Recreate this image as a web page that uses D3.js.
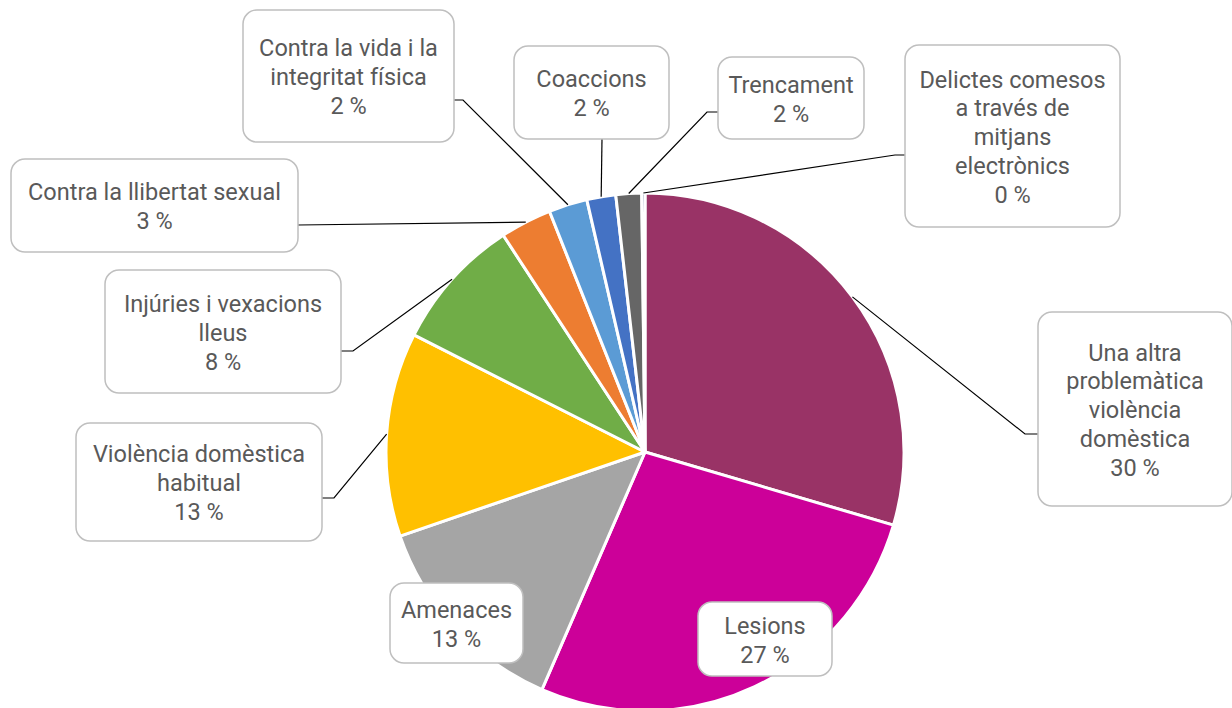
<!DOCTYPE html>
<html><head><meta charset="utf-8">
<script src="https://cdn.jsdelivr.net/npm/d3@7"></script>
<style>html,body{margin:0;padding:0;background:#fff;}svg{display:block;}</style>
</head><body>
<svg id="chart" width="1232" height="708"></svg>
<script>
const categories = ["Una altra problemàtica violència domèstica","Lesions","Amenaces","Violència domèstica habitual","Injúries i vexacions lleus","Contra la llibertat sexual","Contra la vida i la integritat física","Coaccions","Trencament","Delictes comesos a través de mitjans electrònics"];
const values = [29.5, 26.9, 13.2, 12.7, 8.3, 3.2, 2.4, 1.8, 1.6, 0.2];
const labelLines = [["Una altra","problemàtica","violència","domèstica"],["Lesions"],["Amenaces"],["Violència domèstica","habitual"],["Injúries i vexacions","lleus"],["Contra la llibertat sexual"],["Contra la vida i la","integritat física"],["Coaccions"],["Trencament"],["Delictes comesos","a través de","mitjans","electrònics"]];
const colors = ["#993366","#CC0099","#A5A5A5","#FFC000","#70AD47","#ED7D31","#5B9BD5","#4472C4","#666666","#264478"];

// layout: label boxes [x, y, w, h], optional leader elbow [x,y] and box attach point
const boxes = [
  {b:[1038,312,194,194], elbow:[1025,434], end:[1038,434]},
  {b:[698,602,134,74]},
  {b:[390,583,133,80]},
  {b:[76,423,246,118], elbow:[334,498], end:[322,498]},
  {b:[105,270,236,123], elbow:[353,351], end:[341,351]},
  {b:[11,159,287,93], elbow:null, end:[298,225]},
  {b:[243,10,211,132], elbow:[463,100], end:[454,100]},
  {b:[514,46,155,93], elbow:null, end:[602,139]},
  {b:[718,57,146,82], elbow:[707,112], end:[718,112]},
  {b:[905,45,215,182], elbow:[895,155], end:[905,155]}
];

const svg = d3.select("#chart");
const cx = 645, cy = 452, R = 259;
const total = d3.sum(values);
const pie = d3.pie().sort(null).value(d=>d)(values);
const arc = d3.arc().innerRadius(0).outerRadius(R);
const g = svg.append("g").attr("transform",`translate(${cx},${cy})`);
g.selectAll("path").data(pie).join("path")
  .attr("d",arc).attr("fill",(d,i)=>colors[i])
  .attr("stroke","#fff").attr("stroke-width",3).attr("stroke-linejoin","round");

// leaders
pie.forEach((d,i)=>{
  const bx = boxes[i];
  if(!bx.end) return;
  const a = (d.startAngle+d.endAngle)/2;
  const sx = cx + R*Math.sin(a), sy = cy - R*Math.cos(a);
  const pts = [[sx,sy]];
  if(bx.elbow) pts.push(bx.elbow);
  pts.push(bx.end);
  svg.append("path").attr("d",d3.line()(pts)).attr("fill","none")
    .attr("stroke","#000").attr("stroke-width",1.2);
});

// label boxes
pie.forEach((d,i)=>{
  const [x,y,w,h] = boxes[i].b;
  svg.append("rect").attr("x",x).attr("y",y).attr("width",w).attr("height",h)
    .attr("rx",14).attr("ry",14).attr("fill","#fff").attr("stroke","#BFBFBF").attr("stroke-width",1.5);
  const lines = labelLines[i].concat([Math.round(values[i]/total*100)+" %"]);
  const lh = 28.8;
  const y0 = y + h/2 - (lines.length-1)*lh/2;
  const t = svg.append("text").attr("text-anchor","middle")
    .attr("font-family","Roboto, 'Open Sans', sans-serif").attr("font-size",23.5).attr("fill","#595959");
  lines.forEach((ln,k)=>{
    t.append("tspan").attr("x",x+w/2).attr("y",y0+k*lh+1).attr("dy","0.35em").text(ln);
  });
});
</script>
</body></html>
